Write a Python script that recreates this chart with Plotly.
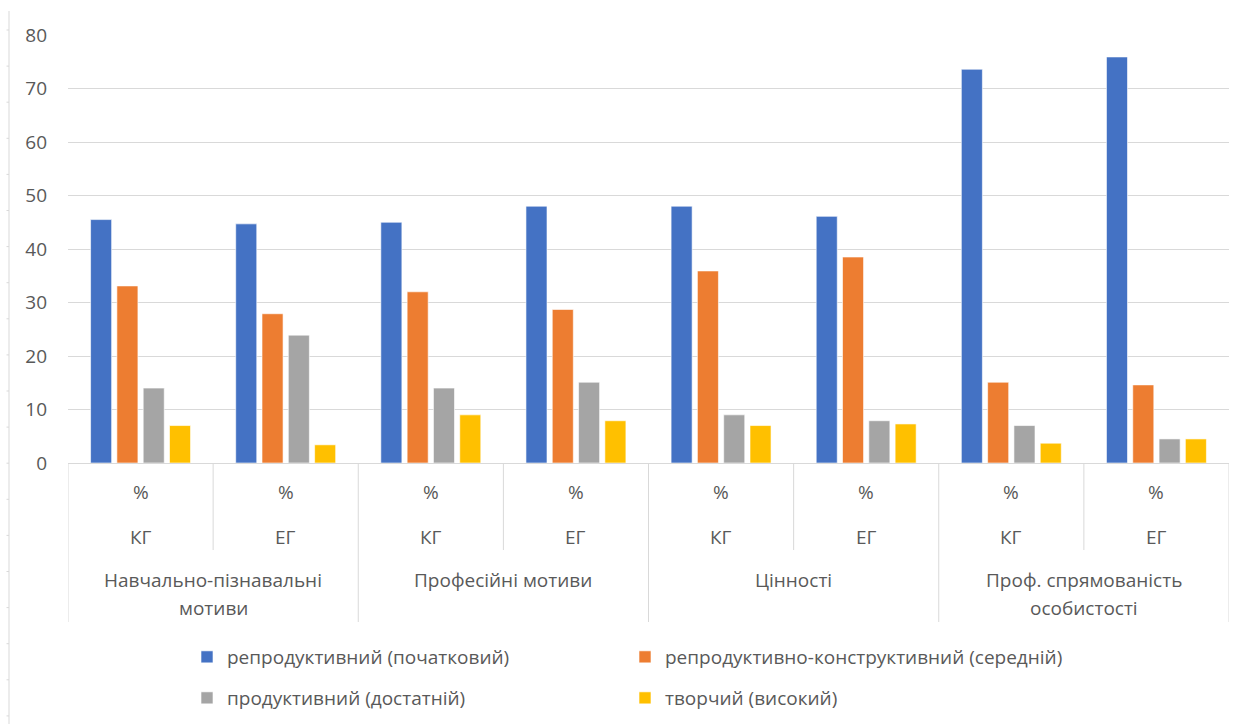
import plotly.graph_objects as go

# Categories (outer level, one entry per text line) and groups (inner level)
categories = [
    ["Навчально-пізнавальні", "мотиви"],
    ["Професійні мотиви"],
    ["Цінності"],
    ["Проф. спрямованість", "особистості"],
]
groups = ["КГ", "ЕГ"]
unit_label = "%"

# Series values, in order: (cat1 КГ, cat1 ЕГ, cat2 КГ, cat2 ЕГ, ...)
reproductive = [45.5, 44.7, 45.0, 48.0, 48.0, 46.1, 73.6, 75.9]
reproductive_constructive = [33.1, 27.9, 32.0, 28.7, 35.9, 38.5, 15.1, 14.6]
productive = [14.0, 23.9, 14.0, 15.1, 9.0, 7.9, 7.0, 4.5]
creative = [7.0, 3.4, 9.0, 7.9, 7.0, 7.3, 3.7, 4.5]

series_names = [
    "репродуктивний (початковий)",
    "репродуктивно-конструктивний (середній)",
    "продуктивний (достатній)",
    "творчий (високий)",
]
series_values = [reproductive, reproductive_constructive, productive, creative]
series_colors = ["#4472C4", "#ED7D31", "#A5A5A5", "#FFC000"]
series_legends = ["legend", "legend", "legend2", "legend2"]

y_ticks = [0, 10, 20, 30, 40, 50, 60, 70, 80]

# Canvas geometry (pixels)
W, H = 1245, 724
M_L, M_R, M_T, M_B = 68, 16, 35, 261
PLOT_H = H - M_T - M_B
TEXT = "#595959"
GRID = "#D9D9D9"
FONT = "Open Sans"
FS = 19


def py(ypix):
    """Convert a pixel row to paper y coordinate."""
    return (H - M_B - ypix) / PLOT_H


def px(xpix):
    return (xpix - M_L) / (W - M_L - M_R)


x_keys = [f"{' '.join(c)}|{g}" for c in categories for g in groups]

fig = go.Figure()
for name, vals, col, lg in zip(series_names, series_values, series_colors, series_legends):
    fig.add_trace(go.Bar(
        x=x_keys, y=vals, name=name, legend=lg,
        marker=dict(color=col, line=dict(color="white", width=0.6)),
    ))

shapes = []
annotations = []
n = len(x_keys)
label_font = dict(size=FS, color=TEXT, family=FONT)

# Inner level: "%" row and group row, with short dividers between groups
for i, key in enumerate(x_keys):
    annotations.append(dict(x=i, xref="x", y=py(492), yref="paper", yanchor="middle",
                            text=unit_label, showarrow=False, font=label_font))
    annotations.append(dict(x=i, xref="x", y=py(537), yref="paper", yanchor="middle",
                            text=groups[i % 2], showarrow=False, font=label_font))
    if i % 2 == 1:
        shapes.append(dict(type="line", xref="x", yref="paper", x0=i - 0.5, x1=i - 0.5,
                           y0=py(463), y1=py(550), line=dict(color=GRID, width=1)))

# Outer level: category labels with long dividers
line_rows = [580, 608]
for j, lines in enumerate(categories):
    for row, txt in zip(line_rows, lines):
        annotations.append(dict(x=2 * j + 0.5, xref="x", y=py(row), yref="paper",
                                yanchor="middle", text=txt, showarrow=False,
                                font=label_font))
for b in range(0, n + 1, 2):
    shapes.append(dict(type="line", xref="x", yref="paper", x0=b - 0.5, x1=b - 0.5,
                       y0=py(463), y1=py(622), line=dict(color=GRID, width=1)))

# Page ruler on the far left
shapes.append(dict(type="line", xref="paper", yref="paper", x0=px(9), x1=px(9),
                   y0=py(11), y1=py(724), line=dict(color=GRID, width=1)))
t = 30.0
while t < H:
    shapes.append(dict(type="line", xref="paper", yref="paper", x0=px(6.5), x1=px(9),
                       y0=py(t), y1=py(t), line=dict(color=GRID, width=1)))
    t += 36.1

legend_common = dict(
    orientation="h", xref="container", yref="container",
    x=187 / W, xanchor="left", yanchor="middle",
    entrywidth=393, entrywidthmode="pixels",
    font=dict(size=FS, color=TEXT, family=FONT),
    itemclick=False, bgcolor="rgba(0,0,0,0)",
)

fig.update_layout(
    width=W, height=H,
    margin=dict(l=M_L, r=M_R, t=M_T, b=M_B),
    paper_bgcolor="white", plot_bgcolor="white",
    font=dict(family=FONT, color=TEXT, size=FS),
    barmode="group", bargap=0.275, bargroupgap=0.2,
    showlegend=True,
    legend=dict(legend_common, y=1 - 657 / H),
    legend2=dict(legend_common, y=1 - 698 / H),
    shapes=shapes, annotations=annotations,
    xaxis=dict(type="category", categoryorder="array", categoryarray=x_keys,
               range=[-0.5, n - 0.5], showticklabels=False, showgrid=False,
               zeroline=False, showline=False, ticks=""),
    yaxis=dict(range=[0, 80], tickvals=y_ticks, showgrid=True, gridcolor=GRID,
               gridwidth=1, zeroline=True, zerolinecolor=GRID, zerolinewidth=1,
               showline=False, ticks="", ticklabelstandoff=20,
               tickfont=label_font),
)

fig.write_html("out.html")
